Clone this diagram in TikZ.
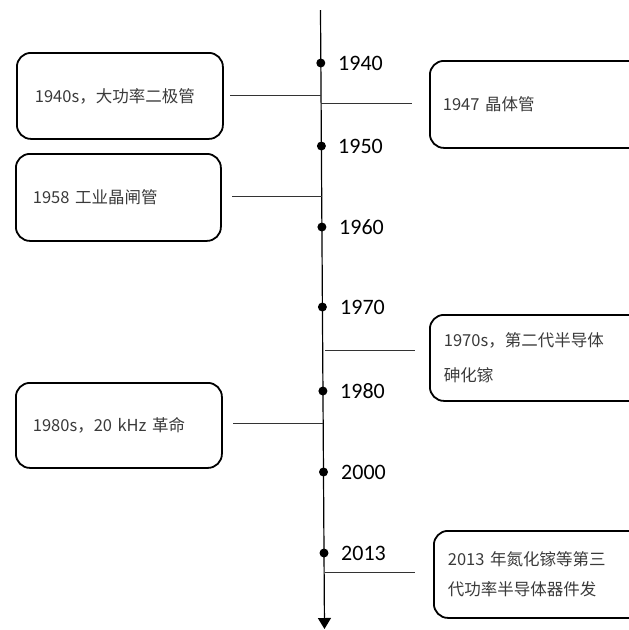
\documentclass[tikz,border=0pt]{standalone}
\usepackage{fontspec}
\usetikzlibrary{arrows.meta}
\newfontfamily\cjk{Noto Sans CJK SC}
\newfontfamily\yr{Carlito}
\definecolor{txtgray}{HTML}{3A3A3A}
\definecolor{linegray}{HTML}{333333}
\tikzset{
  evbox/.style={draw=black, line width=1.8pt, rounded corners=14pt, anchor=north west,
    inner xsep=#1, inner ysep=0pt, align=left, font=\cjk\fontsize{16.5}{32}\selectfont, text=txtgray},
  evbox/.default=16pt,
  yearlbl/.style={anchor=west, inner sep=0pt, font=\yr\fontsize{22}{24}\selectfont, text=black},
  dotmark/.style={circle, fill=black, inner sep=0pt, minimum size=9pt},
  conn/.style={draw=linegray, line width=0.9pt},
  axisline/.style={draw=black, line width=1.2pt, -{Triangle[width=13pt,length=11pt]}}
}
\begin{document}
\begin{tikzpicture}[x=1pt,y=-1pt]
\useasboundingbox (0,0) rectangle (629,630);
\clip (0,0) rectangle (629,630);
% axis
\coordinate (top) at (320.5,10);
\coordinate (bot) at (324.5,629);
\draw[axisline] (top) -- (bot);
% dots and year labels
\node[dotmark] (d1940) at (320.8,63) {};
\node[dotmark] (d1950) at (321.4,146) {};
\node[dotmark] (d1960) at (321.9,227) {};
\node[dotmark] (d1970) at (322.4,307) {};
\node[dotmark] (d1980) at (322.9,391) {};
\node[dotmark] (d2000) at (323.5,472) {};
\node[dotmark] (d2013) at (324.0,553) {};
\node[yearlbl] (y1940) at (338,63) {1940};
\node[yearlbl] (y1950) at (338,146) {1950};
\node[yearlbl] (y1960) at (339,227) {1960};
\node[yearlbl] (y1970) at (340,307) {1970};
\node[yearlbl] (y1980) at (340,391) {1980};
\node[yearlbl] (y2000) at (341,472) {2000};
\node[yearlbl] (y2013) at (341,553) {2013};
% boxes
\node[evbox=18pt, minimum width=206pt, minimum height=86pt, text width=170pt] (b1) at (16,52) {1940s，大功率二极管};
\node[evbox=13pt, minimum width=215pt, minimum height=87pt, text width=189pt] (b2) at (429,60) {1947 晶体管};
\node[evbox=17pt, minimum width=205pt, minimum height=87pt, text width=171pt] (b3) at (15,153) {1958 工业晶闸管};
\node[evbox=14pt, minimum width=215pt, minimum height=86pt, text width=187pt] (b4) at (429,314) {1970s，第二代半导体\\[3pt]砷化镓};
\node[evbox=17pt, minimum width=206pt, minimum height=85pt, text width=172pt] (b5) at (15,382) {1980s，20 kHz 革命};
\node[evbox=14pt, minimum width=211pt, minimum height=87pt, text width=183pt] (b6) at (433,530) {2013 年氮化镓等第三\\[-2pt]代功率半导体器件发};
% connectors
\coordinate (e1) at (230,95);   \coordinate (a1) at (320.9,95);
\coordinate (a2) at (321.1,103); \coordinate (e2) at (412,103);
\coordinate (e3) at (232,196);  \coordinate (a3) at (321.7,196);
\coordinate (a4) at (325,350);  \coordinate (e4) at (415,350);
\coordinate (e5) at (233,423);  \coordinate (a5) at (323.1,423);
\coordinate (a6) at (325,572);  \coordinate (e6) at (415,572);
\draw[conn] (e1) -- (a1);
\draw[conn] (a2) -- (e2);
\draw[conn] (e3) -- (a3);
\draw[conn] (a4) -- (e4);
\draw[conn] (e5) -- (a5);
\draw[conn] (a6) -- (e6);
\end{tikzpicture}
\end{document}
